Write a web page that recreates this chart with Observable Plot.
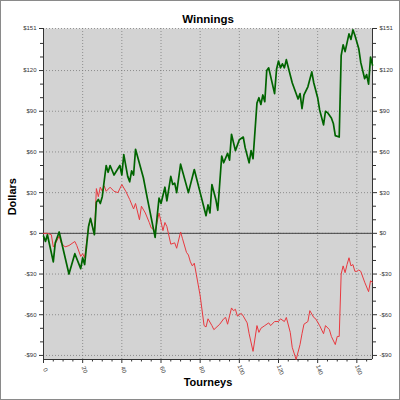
<!DOCTYPE html>
<html>
<head>
<meta charset="utf-8">
<script src="https://cdn.jsdelivr.net/npm/d3@7"></script>
<script src="https://cdn.jsdelivr.net/npm/@observablehq/plot@0.6"></script>
<style>
  html, body { margin: 0; padding: 0; background: #fff; }
  #chart svg { display: block; outline: 1px solid #8a8a8a; outline-offset: -1px; }
</style>
</head>
<body>
<div id="chart"></div>
<script>
// Tourney index and cumulative dollars
const greenT = [0,1,2,5,6,8,13,16,19,20,21,23,24,26,27,28,29,30,32,33,34,36,39,40,41,43,44,45,46,47,51,53,57,58,59,60,62,63,65,66,67,68,70,74,77,80,83,84,85,86,88,89,91,92,94,95,96,98,100,102,103,105,106,107,109,110,111,112,113,114,115,118,119,120,121,122,123,124,127,130,131,132,133,135,137,138,140,141,143,144,145,147,148,149,151,152,153,154,156,157,158,159,161,162,164,165,166,167,168];
const greenV = [-2,-6,-1,-21,-7,1,-30,-15,-26,-18,-23,5,11,-1,23,25,22,27,50,45,50,43,50,43,58,42,38,46,43,62,41,26,-3,12,26,22,34,24,42,36,37,30,51,30,47,30,13,21,15,36,25,17,57,52,59,54,73,61,69,71,63,52,61,55,96,100,95,102,97,120,122,103,121,127,122,125,122,128,111,99,103,92,102,108,119,111,100,91,80,90,89,85,81,72,71,131,139,134,147,143,150,146,136,126,114,117,110,130,124];

const redT = [0,2,4,5,6,8,9,11,13,16,17,19,20,21,23,24,26,27,28,29,30,31,32,34,36,38,40,42,44,46,47,49,50,52,54,55,57,58,59,61,62,63,65,67,68,70,71,73,74,75,76,77,78,79,80,82,83,84,86,87,90,92,93,94,96,97,98,99,101,102,104,105,107,109,110,111,113,115,116,118,120,121,123,124,126,127,129,131,132,133,135,136,138,139,141,143,144,146,147,149,150,151,152,153,154,155,156,157,158,159,160,161,162,164,166,167,168];
const redV = [0,0,-1,-10,-8,-2,-7,-10,-9,-6,-9,-17,-15,-18,5,11,-1,33,27,34,31,35,31,34,31,30,36,31,25,18,22,10,20,15,8,4,2,8,15,2,8,5,-8,-7,-11,1,-4,-14,-16,-21,-24,-22,-30,-38,-46,-68,-69,-63,-68,-71,-67,-63,-62,-67,-55,-57,-56,-61,-59,-61,-66,-74,-87,-68,-73,-70,-68,-66,-68,-65,-65,-63,-65,-62,-73,-84,-93,-82,-74,-67,-65,-57,-62,-63,-68,-74,-68,-71,-76,-82,-76,-76,-30,-24,-29,-23,-18,-24,-23,-28,-28,-27,-28,-36,-43,-35,-36];

// Axis ticks
const yMajor = [-90,-60,-30,0,30,60,90,120,151];
const yMinor = [-80,-70,-50,-40,-20,-10,10,20,40,50,70,80,100,110,130,140];
const xMajor = [0,20,40,60,80,100,120,140,160];
const xMinor = [5,10,15,25,30,35,45,50,55,65,70,75,85,90,95,105,110,115,125,130,135,145,150,155,165];

const title = "Winnings";
const yTitle = "Dollars";
const xTitle = "Tourneys";

const green = greenT.map((t, i) => ({t, v: greenV[i]}));
const red = redT.map((t, i) => ({t, v: redV[i]}));

const fmt = d => d < 0 ? `-$${-d}` : `$${d}`;
const xLo = 0, xHi = 168, yLo = -93, yHi = 151;

const chart = Plot.plot({
  width: 400,
  height: 400,
  marginLeft: 43,
  marginRight: 28,
  marginTop: 28,
  marginBottom: 41,
  style: {fontFamily: "'Liberation Sans', Arial, sans-serif", background: "#fff", color: "#333"},
  x: {domain: [xLo, xHi], axis: null},
  y: {domain: [yLo, yHi], axis: null},
  marks: [
    Plot.frame({fill: "#d3d3d3", stroke: null}),
    Plot.gridY(yMajor, {stroke: "#777", strokeOpacity: 0.75, strokeDasharray: "1,2", strokeWidth: 1}),
    Plot.gridX(xMajor.filter(d => d > 0), {stroke: "#777", strokeOpacity: 0.75, strokeDasharray: "1,2", strokeWidth: 1}),
    Plot.ruleY([0], {stroke: "#444", strokeWidth: 1}),
    // axis lines
    Plot.ruleX([xLo], {stroke: "#333"}),
    Plot.ruleX([xHi], {stroke: "#333"}),
    Plot.ruleY([yLo], {stroke: "#333"}),
    // left axis
    Plot.axisY(yMajor, {anchor: "left", tickSize: 4, tickPadding: 3, fontSize: 6, tickFormat: fmt, label: null, stroke: "#333"}),
    Plot.axisY(yMinor, {anchor: "left", tickSize: 3, tickFormat: () => "", label: null, stroke: "#333"}),
    // right axis
    Plot.axisY(yMajor, {anchor: "right", tickSize: 4, tickPadding: 3, fontSize: 6, tickFormat: fmt, label: null, stroke: "#333"}),
    Plot.axisY(yMinor, {anchor: "right", tickSize: 3, tickFormat: () => "", label: null, stroke: "#333"}),
    // bottom axis ticks
    Plot.axisX(xMajor, {anchor: "bottom", tickSize: 4, tickFormat: () => "", label: null, stroke: "#333"}),
    Plot.axisX(xMinor, {anchor: "bottom", tickSize: 2.5, tickFormat: () => "", label: null, stroke: "#333"}),
    Plot.text(xMajor, {x: d => d, frameAnchor: "bottom", dy: 11, rotate: 70, text: d => String(d), fontSize: 6, fill: "#333"}),
    // series
    Plot.line(red, {x: "t", y: "v", stroke: "#e8393f", strokeWidth: 1}),
    Plot.line(green, {x: "t", y: "v", stroke: "#006400", strokeWidth: 1.7}),
    // titles
    Plot.text([title], {frameAnchor: "top", dy: -14, text: d => d, fontSize: 11.5, fontWeight: "bold", fill: "#000"}),
    Plot.text([yTitle], {x: xLo, y: [27], dx: -31, rotate: -90, text: d => d, fontSize: 11, fontWeight: "bold", fill: "#000"}),
    Plot.text([xTitle], {frameAnchor: "bottom", dy: 26, text: d => d, fontSize: 11, fontWeight: "bold", fill: "#000"})
  ]
});
document.getElementById("chart").append(chart);
</script>
</body>
</html>
